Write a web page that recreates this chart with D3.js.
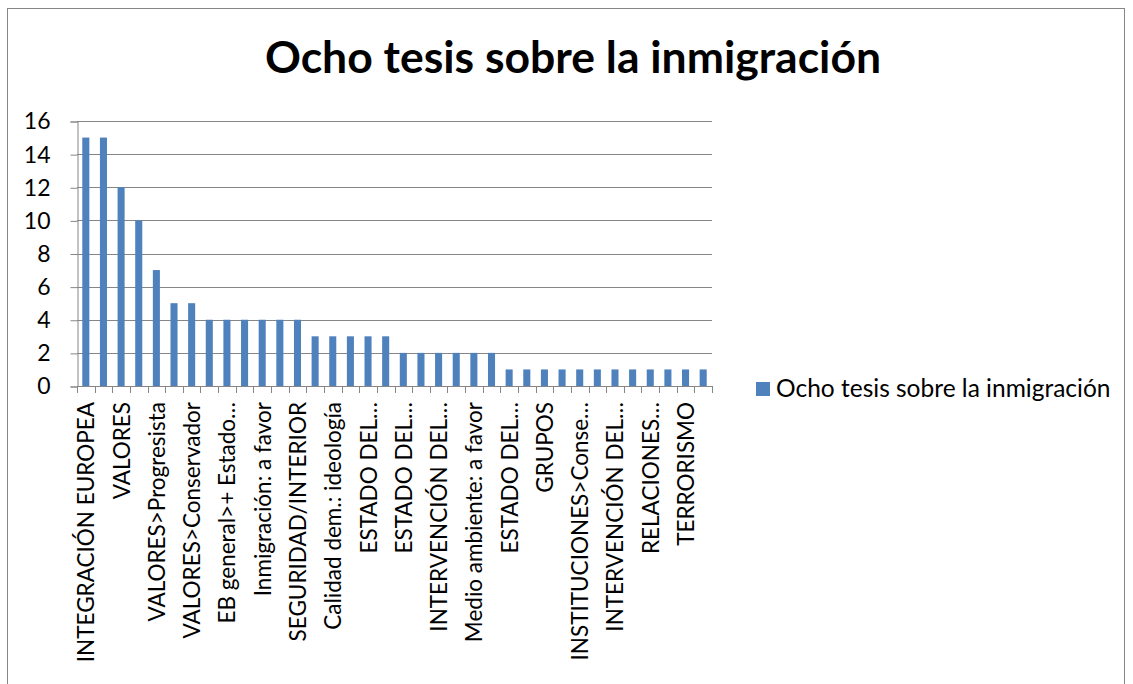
<!DOCTYPE html>
<html lang="es">
<head>
	<meta charset="utf-8">
	<title>Ocho tesis sobre la inmigración</title>
	<script src="https://cdn.jsdelivr.net/npm/d3@7"></script>
	<style>
		body { margin: 0; background: #fff; }
		text { font-family: Lato, "Open Sans", sans-serif; fill: #000; }
	</style>
</head>
<body>
	<script>
		var w = 1133;
		var h = 684;

		// only every second category name is printed on the chart; the others could not be read
		var categories = [
			"INTEGRACIÓN EUROPEA", null, "VALORES", null, "VALORES>Progresista", null,
			"VALORES>Conservador", null, "EB general>+ Estado…", null, "Inmigración: a favor", null,
			"SEGURIDAD/INTERIOR", null, "Calidad dem.: ideología", null, "ESTADO DEL…", null,
			"ESTADO DEL…", null, "INTERVENCIÓN DEL…", null, "Medio ambiente: a favor", null,
			"ESTADO DEL…", null, "GRUPOS", null, "INSTITUCIONES>Conse…", null,
			"INTERVENCIÓN DEL…", null, "RELACIONES…", null, "TERRORISMO", null
		];
		var values = [15, 15, 12, 10, 7, 5, 5, 4, 4, 4, 4, 4, 4, 3, 3, 3, 3, 3,
			2, 2, 2, 2, 2, 2, 1, 1, 1, 1, 1, 1, 1, 1, 1, 1, 1, 1];
		var yTicks = [0, 2, 4, 6, 8, 10, 12, 14, 16];
		var seriesName = "Ocho tesis sobre la inmigración";

		var svg = d3.select("body").append("svg")
			.attr("width", w)
			.attr("height", h);

		// outer chart frame
		svg.append("rect")
			.attr("x", 7.5).attr("y", 8.5)
			.attr("width", 1117).attr("height", 700)
			.attr("fill", "#fff")
			.attr("stroke", "#868686");

		svg.append("text")
			.attr("x", 573).attr("y", 73)
			.attr("text-anchor", "middle")
			.style("font-size", "44.5px")
			.style("font-weight", "bold")
			.text(seriesName);

		// plot area edges
		var pLeft = 77, pRight = 712, pTop = 121, pBottom = 386;

		var x = d3.scaleBand()
			.domain(d3.range(values.length))
			.range([pLeft, pRight])
			.padding(0);

		var y = d3.scaleLinear()
			.domain([0, 16])
			.range([pBottom, pTop]);

		// gridlines
		svg.append("g")
			.selectAll("line")
			.data(yTicks)
			.enter().append("line")
			.attr("x1", pLeft).attr("x2", pRight)
			.attr("y1", function(d) { return Math.round(y(d)) + 0.5; })
			.attr("y2", function(d) { return Math.round(y(d)) + 0.5; })
			.attr("stroke", "#868686");

		// y axis
		var yAxis = svg.append("g")
			.attr("transform", "translate(" + (pLeft + 0.5) + ",0.5)")
			.call(d3.axisLeft(y).tickValues(yTicks).tickSize(7).tickPadding(20));
		yAxis.select(".domain").attr("stroke", "#868686");
		yAxis.selectAll(".tick line").attr("stroke", "#868686");
		yAxis.selectAll("text").style("font-size", "23px").attr("fill", "#000")
			.style("font-family", "Lato, 'Open Sans', sans-serif");

		// bars (gap width 150%)
		var barW = x.bandwidth() / 2.5;
		svg.append("g")
			.selectAll("rect")
			.data(values)
			.enter().append("rect")
			.attr("x", function(d, i) { return x(i) + (x.bandwidth() - barW) / 2; })
			.attr("y", function(d) { return y(d); })
			.attr("width", barW)
			.attr("height", function(d) { return pBottom - y(d); })
			.attr("fill", "#4F81BD");

		// x axis line and tick marks at category boundaries
		svg.append("line")
			.attr("x1", pLeft).attr("x2", pRight)
			.attr("y1", pBottom + 0.5).attr("y2", pBottom + 0.5)
			.attr("stroke", "#868686");
		svg.append("g")
			.selectAll("line")
			.data(d3.range(values.length + 1))
			.enter().append("line")
			.attr("x1", function(i) { return Math.round(pLeft + i * x.bandwidth()) + 0.5; })
			.attr("x2", function(i) { return Math.round(pLeft + i * x.bandwidth()) + 0.5; })
			.attr("y1", pBottom).attr("y2", pBottom + 7)
			.attr("stroke", "#868686");

		// rotated category labels
		svg.append("g")
			.selectAll("text")
			.data(categories.map(function(c, i) { return { name: c, i: i }; })
				.filter(function(d) { return d.name !== null; }))
			.enter().append("text")
			.attr("transform", function(d) {
				return "translate(" + (x(d.i) + x.bandwidth() / 2 + 8.5) + "," + 402 + ") rotate(-90)";
			})
			.attr("text-anchor", "end")
			.style("font-size", "22.5px")
			.text(function(d) { return d.name; });

		// legend
		svg.append("rect")
			.attr("x", 756).attr("y", 382)
			.attr("width", 14).attr("height", 14)
			.attr("fill", "#4F81BD");
		svg.append("text")
			.attr("x", 776).attr("y", 397)
			.style("font-size", "24.5px")
			.text(seriesName);
	</script>
</body>
</html>
